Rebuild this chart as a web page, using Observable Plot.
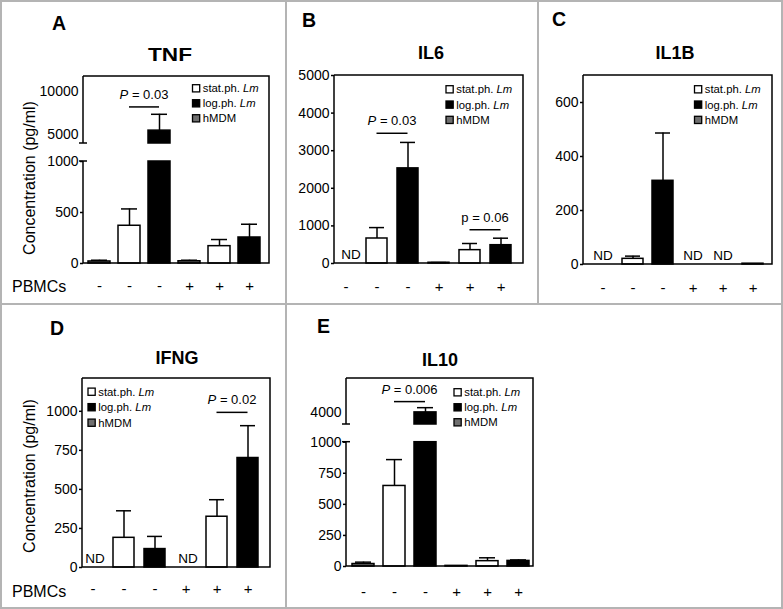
<!DOCTYPE html>
<html>
<head>
<meta charset="utf-8">
<script src="https://cdn.jsdelivr.net/npm/d3@7"></script>
<script src="https://cdn.jsdelivr.net/npm/@observablehq/plot@0.6"></script>
<style>
html,body{margin:0;padding:0;background:#fff;}
#fig{position:relative;width:783px;height:609px;overflow:hidden;background:#fff;font-family:"Liberation Sans",Arial,Helvetica,sans-serif;}
.panel{position:absolute;}
.panel svg{overflow:visible;display:block;}
.rule{position:absolute;background:#b4b4b4;}
</style>
</head>
<body>
<div id="fig"></div>
<script>
// ---------- data ----------
const categories = ["hMDM-", "stat-", "log-", "hMDM+", "stat+", "log+"];
const barGroup = ["hMDM", "stat", "log", "hMDM", "stat", "log"];
const pbmcSigns = ["-", "-", "-", "+", "+", "+"];
const groupKeys = ["hMDM", "stat", "log"];
const groupColors = ["#6f6f6f", "#ffffff", "#000000"];
const legendKeys = ["stat", "log", "hMDM"];
const legendText = ["stat.ph. ", "log.ph. ", "hMDM"];
const legendItalic = ["Lm", "Lm", ""];
const panelLetters = ["A", "B", "C", "D", "E"];
const cytokines = ["TNF", "IL6", "IL1B", "IFNG", "IL10"];
const yTitle = "Concentration (pg/ml)";
const rowTitle = "PBMCs";

const tnfMean = [20, 370, 5500, 22, 170, 255];
const tnfErr = [12, 165, 1900, 10, 65, 130];
const il6Mean = [null, 665, 2530, 20, 355, 487];
const il6Err = [null, 290, 690, 5, 177, 186];
const il1bMean = [null, 21, 310, null, null, 3];
const il1bErr = [null, 10, 177, null, null, 0];
const ifngMean = [null, 190, 118, null, 325, 701];
const ifngErr = [null, 173, 81, null, 109, 207];
const il10Mean = [20, 648, 4000, 5, 43, 45];
const il10Err = [15, 212, 390, 0, 27, 8];

const tnfTicks = [0, 500, 1000];
const tnfUpperTicks = [5000, 10000];
const il6Ticks = [0, 1000, 2000, 3000, 4000, 5000];
const il1bTicks = [0, 200, 400, 600];
const ifngTicks = [0, 250, 500, 750, 1000];
const il10Ticks = [0, 250, 500, 750, 1000];
const il10UpperTicks = [4000];

// axis breaks: [lower segment top, upper segment bottom, axis top]
const tnfBreak = [1000, 4000, 11800];
const il10Break = [1000, 3000, 6800];

const tnfSig = [{a: 1, b: 2, y: 8200, p: "P", val: "0.03", it: true}];
const il6Sig = [{a: 1, b: 2, y: 3450, p: "P", val: "0.03", it: true}, {a: 4, b: 5, y: 885, p: "p", val: "0.06", it: false}];
const il1bSig = [];
const ifngSig = [{a: 4, b: 5, y: 990, p: "P", val: "0.02", it: true}];
const il10Sig = [{a: 1, b: 2, y: 4850, p: "P", val: "0.006", it: true}];

// ---------- layout ----------
const FONT = '"Liberation Sans", Arial, Helvetica, sans-serif';
const panels = [
  {mean: tnfMean, err: tnfErr, ticks: tnfTicks, upper: tnfUpperTicks, sig: tnfSig, brk: tnfBreak,
   left: 0, top: 0, width: 286, height: 304, margin: [76, 17, 41, 83],
   brkSpan: [102, 120, 187], yTop: 187,
   band: [0.28, 0.18, 0.36], xPad: 17, ndDx: 0, titleLen: 44,
   letter: [52, 30], title: [170, 61], legend: [192.5, 88.3, 15], yLabel: [35, 178], pbmc: [12, 291.5]},
  {mean: il6Mean, err: il6Err, ticks: il6Ticks, upper: [], sig: il6Sig,
   left: 286, top: 0, width: 252, height: 304, margin: [75, 15, 41, 48],
   yTop: 5000, band: [0.32, 0.18, 0.1], xPad: 18, ndDx: 5,
   letter: [302, 27.3], title: [431, 59.3], legend: [446, 89.3, 15.3]},
  {mean: il1bMean, err: il1bErr, ticks: il1bTicks, upper: [], sig: il1bSig,
   left: 538, top: 0, width: 245, height: 304, margin: [75, 11, 40, 45],
   yTop: 700, band: [0.305, 0.27, 0.47], xPad: 17.5, ndDx: 0,
   letter: [552, 26], title: [675, 59.3], legend: [694.5, 89.3, 15.3]},
  {mean: ifngMean, err: ifngErr, ticks: ifngTicks, upper: [], sig: ifngSig,
   left: 0, top: 304, width: 286, height: 305, margin: [74, 16, 42, 82],
   yTop: 1210, band: [0.33, 0.18, 0.0], xPad: 16, ndDx: 2,
   letter: [50, 335], title: [177, 364.3], legend: [88, 391.7, 15.5], yLabel: [35, 476], pbmc: [12, 597]},
  {mean: il10Mean, err: il10Err, ticks: il10Ticks, upper: il10UpperTicks, sig: il10Sig, brk: il10Break,
   left: 286, top: 304, width: 497, height: 305, margin: [74, 250, 43, 60],
   brkSpan: [124.3, 142, 188], yTop: 188,
   band: [0.30, 0.11, 0.55], xPad: 20, ndDx: 0,
   letter: [317, 333.3], title: [440, 366], legend: [454, 392.3, 15]}
];

const fig = d3.select("#fig");

function decorations(p, f) {
  return (index, scales, values, dim) => {
    const {width, height, marginLeft: ml, marginRight: mr, marginTop: mt, marginBottom: mb} = dim;
    const x0 = ml, x1 = width - mr, y0 = mt, y1 = height - mb;
    const Y = v => scales.y(f(v));
    const g = d3.create("svg:g").attr("fill", "none").attr("stroke", "#000").attr("stroke-width", 1.5);
    g.append("path").attr("d", `M${x0},${y0}H${x1}V${y1}H${x0}`);
    const segs = p.brk ? [[0, p.brk[0]], [p.brk[1], p.brk[2]]] : [[0, p.yTop]];
    for (const [lo, hi] of segs) {
      g.append("line").attr("x1", x0).attr("x2", x0).attr("y1", Y(lo)).attr("y2", Y(hi));
    }
    if (p.brk) {
      for (const v of [p.brk[0], p.brk[1]]) {
        g.append("line").attr("x1", x0 - 4).attr("x2", x0 + 4).attr("y1", Y(v)).attr("y2", Y(v));
      }
    }
    const bw = scales.x.bandwidth ? scales.x.bandwidth() : 0;
    for (const s of p.sig) {
      const xa = scales.x(categories[s.a]) + bw / 2;
      const xb = scales.x(categories[s.b]) + bw / 2;
      const yy = Y(s.y);
      g.append("line").attr("x1", xa).attr("x2", xb).attr("y1", yy).attr("y2", yy);
      const t = g.append("text").attr("x", (xa + xb) / 2).attr("y", yy - 8)
        .attr("text-anchor", "middle").attr("font-size", 13).attr("fill", "#000").attr("stroke", "none")
        .style("white-space", "pre");
      t.append("tspan").attr("font-style", s.it ? "italic" : "normal").text(s.p);
      t.append("tspan").text(" = " + s.val);
    }
    return g.node();
  };
}

for (const p of panels) {
  const [mt, mr, mb, ml] = p.margin;
  // value -> display position (piecewise for broken axes, identity otherwise)
  const f = p.brk
    ? d3.scaleLinear().domain([0, p.brk[0], p.brk[1], p.brk[2]]).range([0, ...p.brkSpan])
    : d3.scaleLinear().domain([0, 1]).range([0, 1]);
  const rows = categories.map((c, i) => ({c, g: barGroup[i], v: p.mean[i], e: p.err[i]}));
  const bars = rows.filter(d => d.v != null);
  const segs = bars.flatMap(d => (p.brk && d.v > p.brk[1])
    ? [{...d, y1: f(0), y2: f(p.brk[0])}, {...d, y1: f(p.brk[1]), y2: f(d.v)}]
    : [{...d, y1: f(0), y2: f(d.v)}]);
  const errs = bars.filter(d => d.e > 0);
  const nd = rows.filter(d => d.v == null);
  const fmt = d => String(Math.round(f.invert(d)));
  const marks = [
    Plot.barY(segs, {x: "c", y1: "y1", y2: "y2", fill: "g", stroke: "#000", strokeWidth: 1.5}),
    Plot.ruleX(errs, {x: "c", y1: d => f(d.v), y2: d => f(d.v + d.e), stroke: "#000", strokeWidth: 1.5}),
    Plot.tickY(errs, {x: "c", y: d => f(d.v + d.e), stroke: "#000", strokeWidth: 1.5, insetLeft: 3, insetRight: 3}),
    Plot.axisY(p.ticks.map(f), {tickSize: 3, tickPadding: 2, fontSize: 14, strokeWidth: 1.5, tickFormat: fmt, label: null}),
    Plot.axisX({tickSize: 0, tickPadding: p.xPad, fontSize: 15, tickFormat: d => pbmcSigns[categories.indexOf(d)], label: null}),
    Plot.text(nd, {x: "c", y: d => f(0), text: d => "ND", dy: -8.5, dx: p.ndDx, fontSize: 13.5, fill: "#000"}),
    decorations(p, f)
  ];
  if (p.upper.length) {
    marks.push(Plot.axisY(p.upper.map(f), {tickSize: 0, tickPadding: 5, fontSize: 14, tickFormat: fmt, label: null}));
  }
  const chart = Plot.plot({
    width: p.width, height: p.height,
    marginTop: mt, marginRight: mr, marginBottom: mb, marginLeft: ml,
    style: {fontFamily: FONT, fontSize: "14px", overflow: "visible", color: "#000", background: "transparent"},
    x: {type: "band", domain: categories, paddingInner: p.band[0], paddingOuter: p.band[1], align: p.band[2], axis: null},
    y: {domain: [0, p.yTop], axis: null},
    color: {domain: groupKeys, range: groupColors},
    marks
  });
  fig.append("div").attr("class", "panel").style("left", p.left + "px").style("top", p.top + "px")
    .node().appendChild(chart);
}

// panel borders
const rules = [
  [0, 0, 783, 2], [0, 607, 783, 2], [0, 0, 2, 609], [781, 0, 2, 609],
  [0, 303, 783, 2], [285, 0, 2, 609], [537, 0, 2, 305]
];
for (const [l, t, w, h] of rules) {
  fig.append("div").attr("class", "rule").style("left", l + "px").style("top", t + "px")
    .style("width", w + "px").style("height", h + "px");
}

// overlay text: letters, titles, legends, axis titles
const ov = fig.append("svg").attr("width", 783).attr("height", 609)
  .style("position", "absolute").style("left", "0px").style("top", "0px")
  .attr("font-family", FONT).style("white-space", "pre");

panels.forEach((p, k) => {
  ov.append("text").attr("x", p.letter[0]).attr("y", p.letter[1]).attr("font-size", 19.5).attr("font-weight", "bold").text(panelLetters[k]);
  const tt = ov.append("text").attr("x", p.title[0]).attr("y", p.title[1]).attr("font-size", 18).attr("font-weight", "bold")
    .attr("text-anchor", "middle").text(cytokines[k]);
  if (p.titleLen) tt.attr("textLength", p.titleLen).attr("lengthAdjust", "spacingAndGlyphs");
  const [lx, ly, ldy] = p.legend;
  legendKeys.forEach((key, i) => {
    const cy = ly + i * ldy;
    ov.append("rect").attr("x", lx).attr("y", cy - 3.6).attr("width", 7.2).attr("height", 7.2)
      .attr("fill", groupColors[groupKeys.indexOf(key)]).attr("stroke", "#000").attr("stroke-width", 1.3);
    const t = ov.append("text").attr("x", lx + 10.3).attr("y", cy + 4).attr("font-size", 11.3);
    t.append("tspan").text(legendText[i]);
    if (legendItalic[i]) t.append("tspan").attr("font-style", "italic").text(legendItalic[i]);
  });
  if (p.yLabel) {
    ov.append("text").attr("transform", `translate(${p.yLabel[0]},${p.yLabel[1]}) rotate(-90)`)
      .attr("text-anchor", "middle").attr("font-size", 16).text(yTitle);
  }
  if (p.pbmc) {
    ov.append("text").attr("x", p.pbmc[0]).attr("y", p.pbmc[1]).attr("font-size", 16).text(rowTitle);
  }
});
</script>
</body>
</html>
